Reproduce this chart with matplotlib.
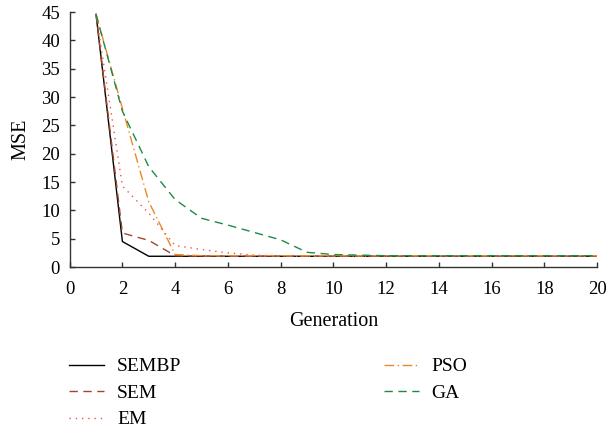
import matplotlib
matplotlib.use("Agg")
import matplotlib.pyplot as plt

plt.rcParams['font.family'] = ['Liberation Serif', 'DejaVu Serif']

generation = list(range(1, 21))
sembp = [44.6, 4.5, 1.9, 1.9, 1.9, 1.9, 1.9, 1.9, 1.9, 1.9,
         1.9, 1.9, 1.9, 1.9, 1.9, 1.9, 1.9, 1.9, 1.9, 1.9]
sem = [44.6, 6.0, 4.7, 2.0, 1.9, 1.9, 1.9, 1.9, 1.9, 1.9,
       1.9, 1.9, 1.9, 1.9, 1.9, 1.9, 1.9, 1.9, 1.9, 1.9]
em = [44.6, 14.3, 9.5, 3.8, 3.1, 2.5, 2.1, 2.0, 1.9, 1.9,
      1.9, 1.9, 1.9, 1.9, 1.9, 1.9, 1.9, 1.9, 1.9, 1.9]
pso = [44.6, 28.0, 11.5, 2.2, 2.0, 2.0, 2.0, 2.0, 2.0, 2.0,
       2.0, 2.0, 2.0, 2.0, 2.0, 2.0, 2.0, 2.0, 2.0, 2.0]
ga = [44.6, 27.5, 17.7, 11.9, 8.6, 7.4, 6.1, 4.8, 2.6, 2.2,
      2.1, 2.0, 2.0, 2.0, 2.0, 2.0, 2.0, 2.0, 2.0, 2.0]

labels = ["SEMBP", "SEM", "EM", "PSO", "GA"]
xticks = list(range(0, 21, 2))
yticks = list(range(0, 46, 5))

fig = plt.figure(figsize=(6.09, 4.30), dpi=100)
ax = fig.add_axes([0.1144, 0.379, 0.866, 0.593])

styles = [
    dict(color="black", linestyle="-"),
    dict(color="#a0462f", linestyle=(0, (6, 4))),
    dict(color="#f05050", linestyle=(0, (1, 3.5))),
    dict(color="#e8892b", linestyle=(0, (7, 2.5, 1, 2.5))),
    dict(color="#1c8a48", linestyle=(0, (6, 4))),
]
series = [sembp, sem, em, pso, ga]
handles = []
for vals, st, lab in zip(series, styles, labels):
    line, = ax.plot(generation, vals, linewidth=1.0, label=lab, **st)
    handles.append(line)

ax.set_xlim(0, 20)
ax.set_ylim(0, 45)
ax.set_xticks(xticks)
ax.set_yticks(yticks)
ax.tick_params(direction="in", length=3.5, width=1.0, color="#333333",
               labelsize=13.5)
ax.tick_params(axis="x", pad=10)
ax.tick_params(axis="y", pad=7)
for side in ("top", "right"):
    ax.spines[side].set_visible(False)
for side in ("left", "bottom"):
    ax.spines[side].set_color("#333333")
    ax.spines[side].set_linewidth(1.0)

ax.set_xlabel("Generation", fontsize=14.5, labelpad=10)
ax.set_ylabel("MSE", fontsize=14.5, labelpad=8)

# Legend below the axes: left column three entries, right column two
leg = fig.legend(handles, labels, ncol=2, loc="upper left",
                 frameon=False, fontsize=14, handlelength=1.8,
                 handletextpad=0.65, columnspacing=10.4,
                 labelspacing=0.46, borderaxespad=0.0)
leg.set_bbox_to_anchor((0.1013, 1 - 350 / 430), transform=fig.transFigure)

fig.savefig("out.png", dpi=100)
